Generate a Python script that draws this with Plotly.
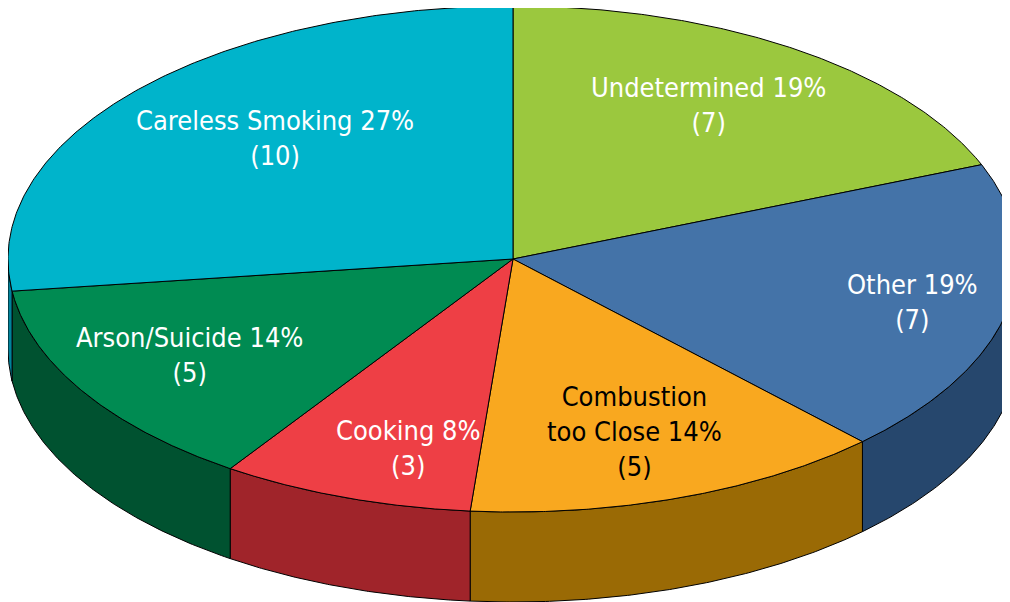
import numpy as np
import plotly.graph_objects as go

# ---- data ----
categories = ["Undetermined", "Other", "Combustion\ntoo Close", "Cooking", "Arson/Suicide", "Careless Smoking"]
counts = [7, 7, 5, 3, 5, 10]

# ---- styles ----
top_colors = ["#9BC83E", "#4473A8", "#F9A81F", "#EE3F45", "#008B52", "#00B4CB"]
side_colors = ["#6E8F2C", "#26476D", "#9A6A05", "#A0242A", "#005230", "#00829A"]
text_colors = ["white", "white", "black", "white", "white", "white"]
label_r = [0.72, 0.81, 0.725, 0.775, 0.745, 0.67]
label_dang = [-1.5, 0.0, 0.0, -4.0, 1.0, 4.0]

W, H = 1010, 602
PAD = 8  # page body margin
CX, CY = 513, 259
RX, RY = 505, 253
DEPTH = 90


def rim(angles_deg, dy=0.0):
    t = np.radians(angles_deg)
    return CX + RX * np.sin(t), CY - RY * np.cos(t) + dy


total = sum(counts)
cum = np.concatenate([[0], np.cumsum(counts)]) / total * 360.0

fig = go.Figure()

# side walls (front half only: 90..270 degrees)
for i in range(len(counts)):
    a0, a1 = cum[i], cum[i + 1]
    s0, s1 = max(a0, 90.0), min(a1, 270.0)
    if s1 <= s0:
        continue
    ang = np.linspace(s0, s1, 120)
    xt, yt = rim(ang)
    xb, yb = rim(ang[::-1], DEPTH)
    xs = np.concatenate([xt, xb, xt[:1]])
    ys = np.concatenate([yt, yb, yt[:1]])
    fig.add_trace(go.Scatter(x=xs, y=ys, mode="lines", fill="toself",
                             fillcolor=side_colors[i],
                             line=dict(color="black", width=1),
                             hoverinfo="skip", showlegend=False))

# top faces
for i in range(len(counts)):
    a0, a1 = cum[i], cum[i + 1]
    ang = np.linspace(a0, a1, 200)
    xa, ya = rim(ang)
    xs = np.concatenate([[CX], xa, [CX]])
    ys = np.concatenate([[CY], ya, [CY]])
    fig.add_trace(go.Scatter(x=xs, y=ys, mode="lines", fill="toself",
                             fillcolor=top_colors[i],
                             line=dict(color="black", width=1),
                             hoverinfo="skip", showlegend=False))

# labels
for i in range(len(counts)):
    mid = np.radians((cum[i] + cum[i + 1]) / 2 + label_dang[i])
    lx = CX + RX * label_r[i] * np.sin(mid)
    ly = CY - RY * label_r[i] * np.cos(mid)
    pct = round(counts[i] / total * 100)
    name = categories[i].replace("\n", "<br>")
    fig.add_annotation(x=lx, y=ly, xref="x", yref="y", showarrow=False,
                       text=f"{name} {pct}%<br>({counts[i]})",
                       font=dict(family="DejaVu Sans Condensed, Liberation Sans Narrow, Roboto, sans-serif",
                                 size=27, color=text_colors[i]),
                       align="center", xanchor="center", yanchor="middle")

fig.update_layout(
    width=W - PAD, height=H - PAD, autosize=False,
    margin=dict(l=0, r=0, t=0, b=0),
    paper_bgcolor="white", plot_bgcolor="white",
    xaxis=dict(range=[PAD, W], visible=False, fixedrange=True),
    yaxis=dict(range=[H, PAD], visible=False, fixedrange=True),
)

fig.write_html("out.html", config={"displayModeBar": False})
